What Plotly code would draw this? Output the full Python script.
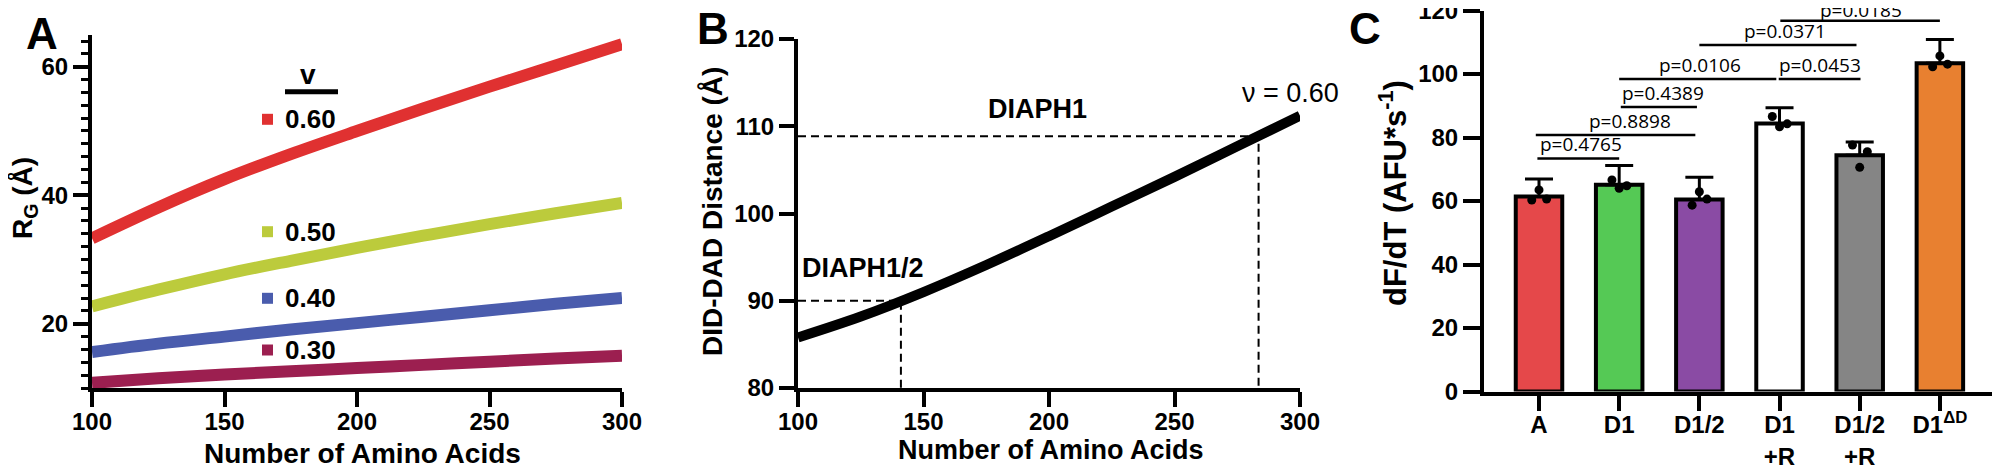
import plotly.graph_objects as go

# ---- panel A: radius of gyration vs chain length
N_AA = [100, 125, 150, 175, 200, 225, 250, 275, 300]
RG_060 = [33.3, 38.1, 42.5, 46.4, 50.0, 53.5, 56.9, 60.2, 63.5]
RG_050 = [22.7, 25.3, 27.7, 29.8, 31.8, 33.7, 35.5, 37.2, 38.8]
RG_040 = [15.6, 16.9, 18.0, 19.1, 20.1, 21.1, 22.1, 23.1, 24.0]
RG_030 = [10.8, 11.5, 12.1, 12.6, 13.1, 13.6, 14.1, 14.6, 15.0]
NU_LABELS = ["0.60", "0.50", "0.40", "0.30"]

# ---- panel B: DID-DAD distance (nu = 0.60)
DIST = [85.8, 88.2, 91.0, 94.1, 97.4, 100.8, 104.2, 107.7, 111.2]
MARK_N = [141, 283.5]        # DIAPH1/2, DIAPH1
MARK_D = [90.0, 108.85]
MARK_NAMES = ["DIAPH1/2", "DIAPH1"]

# ---- panel C: dF/dT bars
GROUPS = ["A", "D1", "D1/2", "D1<br>+R", "D1/2<br>+R", "D1<sup>ΔD</sup>"]
MEANS = [61.4, 65.1, 60.5, 84.4, 74.4, 103.4]
SD = [5.5, 6.1, 7.0, 5.0, 4.2, 7.5]
REPS = [
    [60.3, 63.5, 60.6],
    [66.6, 64.0, 64.8],
    [58.7, 62.9, 60.6],
    [86.6, 83.4, 84.3],
    [77.6, 70.6, 75.5],
    [102.3, 105.7, 103.1],
]
PVALS = ["p=0.4765", "p=0.8898", "p=0.4389", "p=0.0106", "p=0.0453", "p=0.0371", "p=0.0185"]
P_LEVEL = [73.4, 80.8, 89.6, 98.4, 98.4, 109.1, 116.8]

# styles
LINE_COLORS = ["#e03131", "#bccb3c", "#4a5cad", "#9c1f50"]
BAR_COLORS = ["#e5484a", "#55c955", "#8a4ba4", "#ffffff", "#858585", "#e88030"]
JITTER = [-0.09, 0.0, 0.095]
BRACKET_X = [(-0.02, 1.0), (-0.04, 1.95), (1.02, 1.97), (1.0, 2.96),
             (2.99, 4.01), (2.0, 3.96), (3.01, 5.0)]
LABEL_X = [0.52, 1.14, 1.55, 2.01, 3.51, 3.07, 4.01]
LABEL_SHIFT = [-1, -1, -1, -1, -1, -1, -4]

# page is 2000x469; the html body keeps its default 8px margin
OFF = 8
W, H = 2000 - OFF, 469 - OFF
FONT = "Liberation Sans, Arial, Helvetica, sans-serif"


def px(x):
    return (x - OFF) / W


def py(y):
    return 1 - (y - OFF) / H


def paper_text(x, y, text, size, angle=0, xanchor="center", bold=True, family=FONT):
    return dict(x=px(x), y=py(y), xref="paper", yref="paper",
                text=f"<b>{text}</b>" if bold else text, textangle=angle,
                xanchor=xanchor, yanchor="middle", showarrow=False,
                font=dict(family=family, size=size, color="black"))


fig = go.Figure()

# panel A curves
for vals, col in zip([RG_060, RG_050, RG_040, RG_030], LINE_COLORS):
    fig.add_trace(go.Scatter(
        x=N_AA, y=vals, mode="lines", line=dict(color=col, width=12, shape="spline"),
        xaxis="x", yaxis="y", showlegend=False, hoverinfo="skip",
    ))

# panel B curve and dashed guides
fig.add_trace(go.Scatter(
    x=N_AA, y=DIST, mode="lines", line=dict(color="black", width=10, shape="spline"),
    xaxis="x2", yaxis="y2", showlegend=False,
))
for n, d in zip(MARK_N, MARK_D):
    fig.add_trace(go.Scatter(
        x=[N_AA[0], n, n], y=[d, d, 80], mode="lines",
        line=dict(color="black", width=2, dash="8px,5px"),
        xaxis="x2", yaxis="y2", showlegend=False,
    ))

# panel C bars, error bars and replicates
idx = list(range(len(GROUPS)))
fig.add_trace(go.Bar(
    x=idx, y=MEANS, width=0.58,
    marker=dict(color=BAR_COLORS, line=dict(color="black", width=4)),
    error_y=dict(type="data", array=SD, arrayminus=[0] * len(SD), symmetric=False,
                 color="black", thickness=3, width=14),
    xaxis="x3", yaxis="y3", showlegend=False,
))
dx, dy = [], []
for i, reps in enumerate(REPS):
    for j, v in zip(JITTER, reps):
        dx.append(i + j)
        dy.append(v)
fig.add_trace(go.Scatter(
    x=dx, y=dy, mode="markers", marker=dict(color="black", size=9),
    xaxis="x3", yaxis="y3", showlegend=False,
))
for (x0, x1), lvl in zip(BRACKET_X, P_LEVEL):
    fig.add_trace(go.Scatter(
        x=[x0, x1], y=[lvl, lvl], mode="lines", line=dict(color="black", width=2.5),
        xaxis="x3", yaxis="y3", showlegend=False,
    ))

ann = []
for lx, lvl, txt, sh in zip(LABEL_X, P_LEVEL, PVALS, LABEL_SHIFT):
    ann.append(dict(x=lx, y=lvl, xref="x3", yref="y3", text=txt, showarrow=False,
                    xanchor="center", yanchor="bottom", yshift=sh,
                    font=dict(family="Open Sans, Arial", size=19, color="black")))

# panel B labels
ann.append(dict(x=MARK_N[0] - 15, y=MARK_D[0] + 3.8, xref="x2", yref="y2",
                text="<b>" + MARK_NAMES[0] + "</b>", showarrow=False,
                xanchor="center", yanchor="middle", font=dict(family=FONT, size=27, color="black")))
ann.append(dict(x=195.6, y=MARK_D[1] + 3.1, xref="x2", yref="y2",
                text="<b>" + MARK_NAMES[1] + "</b>", showarrow=False,
                xanchor="center", yanchor="middle", font=dict(family=FONT, size=27, color="black")))
ann.append(dict(x=296.4, y=113.8, xref="x2", yref="y2", text="ν = 0.60", showarrow=False,
                xanchor="center", yanchor="middle", font=dict(family=FONT, size=27, color="black")))

# panel letters
for letter, lx, ly in [("A", 42, 33), ("B", 713, 28), ("C", 1365, 29)]:
    ann.append(paper_text(lx, ly, letter, 44))

# axis titles
ann += [
    paper_text(362, 453, "Number of Amino Acids", 28),
    paper_text(1051, 450, "Number of Amino Acids", 27),
    paper_text(24, 198, "R<sub>G</sub> (Å)", 28, angle=-90),
    paper_text(712, 212, "DID-DAD Distance (Å)", 28, angle=-90),
    paper_text(1393, 193, "dF/dT (AFU*s<sup>-1</sup>)", 31, angle=-90),
]

# panel A legend
ann.append(paper_text(308, 75, "v", 28))
shapes = [dict(type="line", xref="paper", yref="paper", x0=px(285), x1=px(338),
               y0=py(91.7), y1=py(91.7), line=dict(color="black", width=5))]
for lab, col, ly in zip(NU_LABELS, LINE_COLORS, [119.3, 231.7, 298.3, 350]):
    shapes.append(dict(type="rect", xref="paper", yref="paper", x0=px(262), x1=px(273),
                       y0=py(ly + 5.5), y1=py(ly - 5.5), fillcolor=col, line=dict(width=0)))
    ann.append(paper_text(283, ly, lab, 26, xanchor="left"))

tickfont = dict(family=FONT, size=24, color="black", weight="bold")
base = dict(showgrid=False, zeroline=False, showline=True, linecolor="black", linewidth=4,
            ticks="outside", tickcolor="black", tickwidth=4, ticklen=15, tickfont=tickfont,
            automargin=False, ticklabeloverflow="allow")

fig.update_layout(
    width=W, height=H,
    margin=dict(l=0, r=0, t=0, b=0, autoexpand=False),
    plot_bgcolor="white", paper_bgcolor="white",
    xaxis=dict(base, domain=[px(92), px(622)], range=[100, 300], dtick=50, anchor="y",
               ticklabelstandoff=-6),
    yaxis=dict(base, domain=[py(388), py(34.6)], range=[10, 65], tick0=0, dtick=20, anchor="x",
               minor=dict(dtick=2, tick0=0, ticks="outside", ticklen=7, tickwidth=3,
                          tickcolor="black")),
    xaxis2=dict(base, domain=[px(798), px(1300)], range=[100, 300], dtick=50, anchor="y2",
                ticklabelstandoff=-6),
    yaxis2=dict(base, domain=[py(388), py(39)], range=[80, 120], dtick=10, anchor="x2"),
    xaxis3=dict(base, domain=[px(1484), px(1996)], range=[-0.686, 5.7],
                tickvals=idx, ticktext=GROUPS, anchor="y3", ticklabelstandoff=-6),
    yaxis3=dict(base, domain=[py(391.5), py(10.5)], range=[0, 120], dtick=20, ticklen=17,
                anchor="x3"),
    annotations=ann,
    shapes=shapes,
)

fig.write_html("out.html")
